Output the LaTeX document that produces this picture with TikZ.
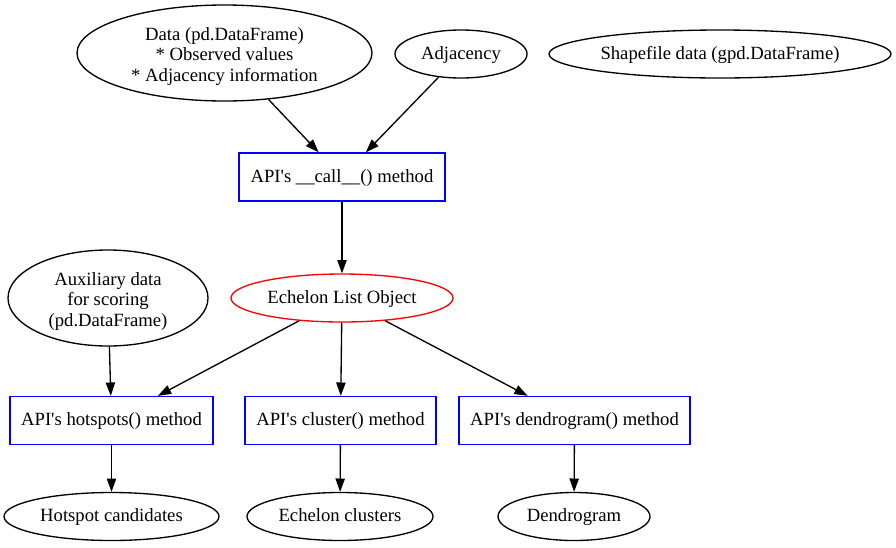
\documentclass[tikz,border=0pt]{standalone}
\usepackage{fontspec}
\setmainfont{Liberation Serif}
\usetikzlibrary{shapes.geometric,arrows.meta}
\begin{document}
\begin{tikzpicture}[x=0.75pt,y=-0.75pt,line width=1pt,
  every node/.style={font=\fontsize{14pt}{15.4pt}\selectfont, inner sep=0pt},
  one/.style={text height=10pt, text depth=2pt},
  ell/.style={draw=black, ellipse, minimum height=36pt, one},
  bigell/.style={draw=black, ellipse, minimum height=72pt},
  multitext/.style={label={[align=center, yshift=-2.5pt, font=\fontsize{14pt}{15.4pt}\selectfont, inner sep=0pt]center:{#1}}},
  redell/.style={draw=red, ellipse, minimum height=36pt, one},
  boxn/.style={draw=blue, rectangle, minimum height=36pt, one},
  arr/.style={-{Triangle[length=10pt,width=7pt]}}]
\useasboundingbox (0,0) rectangle (896,547);

% top row
\node[bigell, minimum width=221.25pt,
  multitext={Data (pd.DataFrame)\\* Observed values\\* Adjacency information}] (data) at (224.5,53) {};
\node[ell, minimum width=99pt] (adj) at (461,54) {Adjacency};
\node[ell, minimum width=256.5pt] (shp) at (720,54) {Shapefile data (gpd.DataFrame)};

% call box
\node[boxn, minimum width=154.5pt] (call) at (342,177) {API\textquotesingle s \_\_call\_\_() method};

% middle row
\node[redell, minimum width=166.5pt] (ech) at (342,298) {Echelon List Object};
\node[bigell, minimum width=150pt,
  multitext={Auxiliary data\\for scoring\\(pd.DataFrame)}] (aux) at (108,298) {};

% method boxes
\node[boxn, minimum width=152.25pt] (hot) at (111.5,420.5) {API\textquotesingle s hotspots() method};
\node[boxn, minimum width=143.25pt] (clu) at (340.5,420.5) {API\textquotesingle s cluster() method};
\node[boxn, minimum width=173.25pt] (den) at (574.5,420.5) {API\textquotesingle s dendrogram() method};

% outputs
\node[ell, minimum width=161.25pt] (hc) at (111.5,516.5) {Hotspot candidates};
\node[ell, minimum width=139.5pt] (ec) at (340,516.5) {Echelon clusters};
\node[ell, minimum width=114pt] (dg) at (574,516.5) {Dendrogram};

% edges
\draw[arr] (data) -- (call);
\draw[arr] (adj) -- (call);
\draw[arr] (call) -- (ech);
\draw[arr] (aux) -- (hot);
\draw[arr] (ech) -- (hot);
\draw[arr] (ech) -- (clu);
\draw[arr] (ech) -- (den);
\draw[arr] (hot) -- (hc);
\draw[arr] (clu) -- (ec);
\draw[arr] (den) -- (dg);
\end{tikzpicture}
\end{document}
